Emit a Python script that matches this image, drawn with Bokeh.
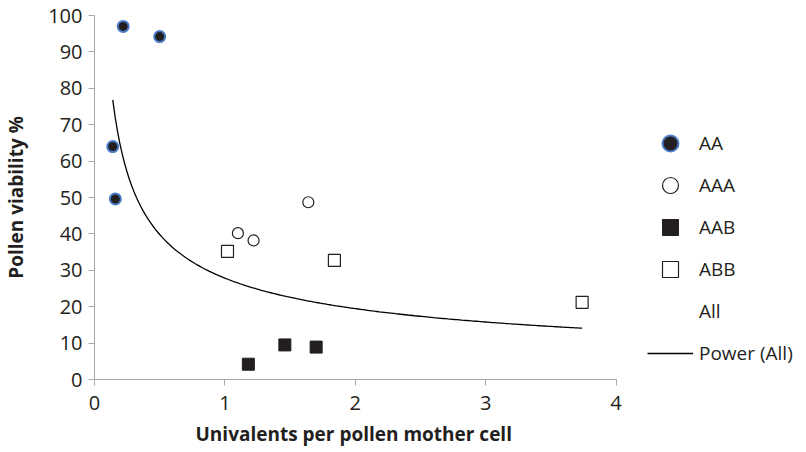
import numpy as np
from bokeh.plotting import figure
from bokeh.models import Legend, LegendItem, Range1d, FixedTicker, Title
from bokeh.embed import file_html
from bokeh.resources import INLINE

# Data
aa_x = [0.22, 0.50, 0.14, 0.16]
aa_y = [97.0, 94.2, 64.0, 49.6]
aaa_x = [1.10, 1.22, 1.64]
aaa_y = [40.2, 38.2, 48.7]
aab_x = [1.18, 1.46, 1.70]
aab_y = [4.2, 9.5, 8.9]
abb_x = [1.02, 1.84, 3.74]
abb_y = [35.2, 32.7, 21.2]
x_ticks = [0, 1, 2, 3, 4]
y_ticks = [0, 10, 20, 30, 40, 50, 60, 70, 80, 90, 100]

# Power trendline (y = a * x^b) fitted on all points (Excel-style log-log fit)
all_x = np.array(aa_x + aaa_x + aab_x + abb_x)
all_y = np.array(aa_y + aaa_y + aab_y + abb_y)
b, ln_a = np.polyfit(np.log(all_x), np.log(all_y), 1)
a = np.exp(ln_a)
tx = np.linspace(all_x.min(), all_x.max(), 200)
ty = a * tx ** b

DARK = "#231f20"
FONT = "Open Sans"

W, H = 804, 452
LEFT, RIGHT_PAD, TOP, BOTTOM = 92, 4, 15, 73
frame_w = W - LEFT - RIGHT_PAD
axis_px = 523.0  # pixel length of the 0..4 axis
x_end = 4 * frame_w / axis_px  # extra room on the right holds the legend

p = figure(width=W, height=H, output_backend="svg", toolbar_location=None,
           x_range=Range1d(0, x_end), y_range=Range1d(0, 100),
           min_border_left=LEFT, min_border_right=RIGHT_PAD,
           min_border_top=TOP, min_border_bottom=BOTTOM)
p.outline_line_color = None
p.grid.visible = False
p.background_fill_color = "white"

for ax in (p.xaxis[0], p.yaxis[0]):
    ax.axis_line_color = "#a7a9ac"
    ax.major_tick_line_color = "#a7a9ac"
    ax.major_tick_out = 6
    ax.major_tick_in = 0
    ax.minor_tick_line_color = None
    ax.major_label_text_font = FONT
    ax.major_label_text_font_size = "20px"
    ax.major_label_text_color = DARK
    ax.axis_label_text_font = FONT
    ax.axis_label_text_font_size = "19px"
    ax.axis_label_text_font_style = "bold"
    ax.axis_label_text_color = DARK

p.xaxis[0].bounds = (0, 4)
p.xaxis[0].ticker = FixedTicker(ticks=x_ticks)
p.yaxis[0].ticker = FixedTicker(ticks=y_ticks)
p.yaxis[0].axis_label = "Pollen viability %"
p.xaxis[0].major_label_standoff = 10
p.yaxis[0].major_label_standoff = 6
p.yaxis[0].axis_label_standoff = 16

# x-axis title centred under the 0..4 axis (not under the whole frame)
xt = Title(text="Univalents per pollen mother cell", align="left", offset=101,
           text_font=FONT, text_font_size="19px", text_font_style="bold",
           text_color=DARK, standoff=12)
p.add_layout(xt, "below")

r_trend = p.line(tx, ty, line_color="black", line_width=1.3)
r_aa = p.scatter(aa_x, aa_y, marker="circle", size=11, fill_color=DARK, line_color="#4a7bc8", line_width=2)
r_aaa = p.scatter(aaa_x, aaa_y, marker="circle", size=11, fill_color="white", line_color=DARK, line_width=1.2)
r_aab = p.scatter(aab_x, aab_y, marker="square", size=12, fill_color=DARK, line_color=DARK, line_width=1)
r_abb = p.scatter(abb_x, abb_y, marker="square", size=12, fill_color="white", line_color=DARK, line_width=1.2)
r_all = p.scatter(list(all_x), list(all_y), marker="circle", size=0, fill_alpha=0, line_alpha=0)

legend = Legend(items=[
    LegendItem(label="AA", renderers=[r_aa]),
    LegendItem(label="AAA", renderers=[r_aaa]),
    LegendItem(label="AAB", renderers=[r_aab]),
    LegendItem(label="ABB", renderers=[r_abb]),
    LegendItem(label="All", renderers=[r_all]),
    LegendItem(label="Power (All)", renderers=[r_trend]),
], location=(645 - LEFT, 6))
legend.border_line_color = None
legend.background_fill_alpha = 0
legend.padding = 0
legend.margin = 0
legend.spacing = 2
legend.glyph_width = 46
legend.glyph_height = 40
legend.label_height = 40
legend.label_standoff = 6
legend.label_text_font = FONT
legend.label_text_font_size = "19px"
legend.label_text_color = DARK
p.add_layout(legend, "center")

open("out.html", "w").write(file_html(p, INLINE))
